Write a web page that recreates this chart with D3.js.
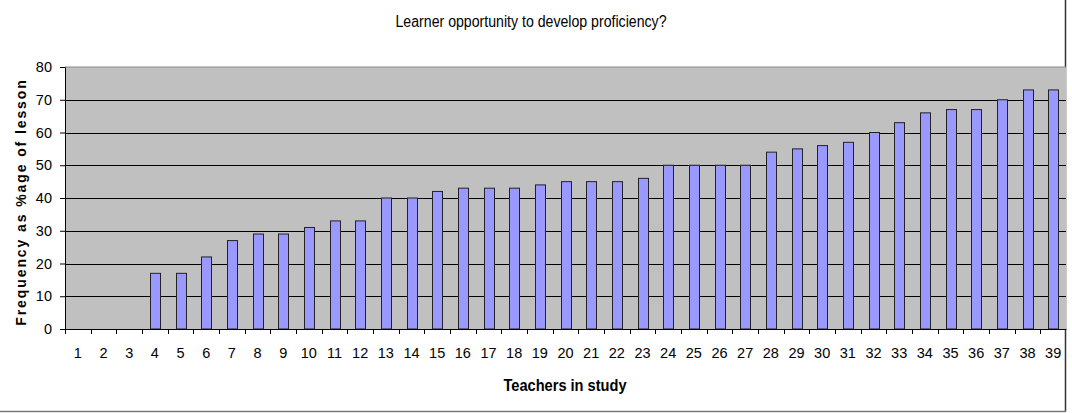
<!DOCTYPE html>
<html>
<head>
<meta charset="utf-8">
<script src="https://cdn.jsdelivr.net/npm/d3@7"></script>
<style>
  body { margin: 0; background: #fff; }
  text { font-family: "Liberation Sans", Arial, sans-serif; fill: #000; }
</style>
</head>
<body>
<script>
const teachers = d3.range(1, 40).map(String);
const frequency = [0, 0, 0, 17, 17, 22, 27, 29, 29, 31, 33, 33, 40, 40, 42, 43, 43, 43, 44, 45,
  45, 45, 46, 50, 50, 50, 50, 54, 55, 56, 57, 60, 63, 66, 67, 67, 70, 73, 73];
const yTicks = [0, 10, 20, 30, 40, 50, 60, 70, 80];

const width = 1072;
const height = 413;
const margin = {top: 67, right: 6, bottom: 84, left: 65};

const svg = d3.select("body").append("svg").attr("width", width).attr("height", height);

const x = d3.scaleBand().domain(teachers).range([margin.left, width - margin.right]);
const y = d3.scaleLinear().domain([0, 80]).range([height - margin.bottom, margin.top]);

// chart frame (only right and bottom edges are visible)
svg.append("line").attr("x1", 1065.5).attr("x2", 1065.5).attr("y1", 0).attr("y2", 411.5)
  .attr("stroke", "#333").attr("stroke-width", 1.5);
svg.append("line").attr("x1", 0).attr("x2", 1066).attr("y1", 411.5).attr("y2", 411.5)
  .attr("stroke", "#777").attr("stroke-width", 1.5);

// plot background
svg.append("rect").attr("x", margin.left).attr("y", y(80))
  .attr("width", width - margin.right - margin.left).attr("height", y(0) - y(80))
  .attr("fill", "#c0c0c0");
svg.append("line").attr("x1", margin.left).attr("x2", width - margin.right)
  .attr("y1", y(80)).attr("y2", y(80)).attr("stroke", "#888");

// gridlines
svg.append("g").selectAll("line").data(yTicks.filter(d => d > 0 && d < 80)).enter().append("line")
  .attr("x1", margin.left).attr("x2", width - margin.right)
  .attr("y1", d => Math.round(y(d)) + 0.5).attr("y2", d => Math.round(y(d)) + 0.5)
  .attr("stroke", "#000").attr("stroke-width", 1);

// bars
const bw = 10;
svg.append("g").selectAll("rect").data(frequency).enter().append("rect")
  .attr("x", (d, i) => Math.round(x(teachers[i]) + x.bandwidth() / 2 - bw / 2) + 0.5)
  .attr("y", d => y(d))
  .attr("width", bw)
  .attr("height", d => y(0) - y(d))
  .attr("fill", "#9999ff")
  .attr("stroke", "#222")
  .attr("stroke-width", 1)
  .style("display", d => d > 0 ? null : "none");

// y axis
const yAxis = svg.append("g").attr("transform", `translate(${margin.left},0)`)
  .call(d3.axisLeft(y).tickValues(yTicks).tickSize(5).tickPadding(8));
yAxis.select(".domain").attr("stroke", "#000");
yAxis.selectAll(".tick line").attr("stroke", "#000");
yAxis.selectAll("text").style("font-size", "14.5px").attr("fill", "#222");

// x axis
const xAxis = svg.append("g").attr("transform", `translate(0,${y(0)})`)
  .call(d3.axisBottom(x).tickSize(0).tickPadding(19));
xAxis.select(".domain").attr("stroke", "#000");
xAxis.selectAll("text").style("font-size", "14.5px").attr("fill", "#222");
svg.append("g").selectAll("line").data(teachers).enter().append("line")
  .attr("x1", d => Math.round(x(d)) + 0.5).attr("x2", d => Math.round(x(d)) + 0.5)
  .attr("y1", y(0)).attr("y2", y(0) + 5).attr("stroke", "#000");

// titles
svg.append("text").attr("x", 531).attr("y", 27).attr("text-anchor", "middle")
  .style("font-size", "16px").attr("textLength", 271).attr("lengthAdjust", "spacingAndGlyphs")
  .text("Learner opportunity to develop proficiency?");
svg.append("text").attr("x", 565).attr("y", 391).attr("text-anchor", "middle")
  .style("font-size", "16px").style("font-weight", "bold")
  .attr("textLength", 123).attr("lengthAdjust", "spacingAndGlyphs").text("Teachers in study");
svg.append("text").attr("transform", "translate(26,202) rotate(-90)").attr("text-anchor", "middle")
  .style("font-size", "14px").style("font-weight", "bold").style("letter-spacing", "1.9px")
  .text("Frequency as %age of lesson");
</script>
</body>
</html>
